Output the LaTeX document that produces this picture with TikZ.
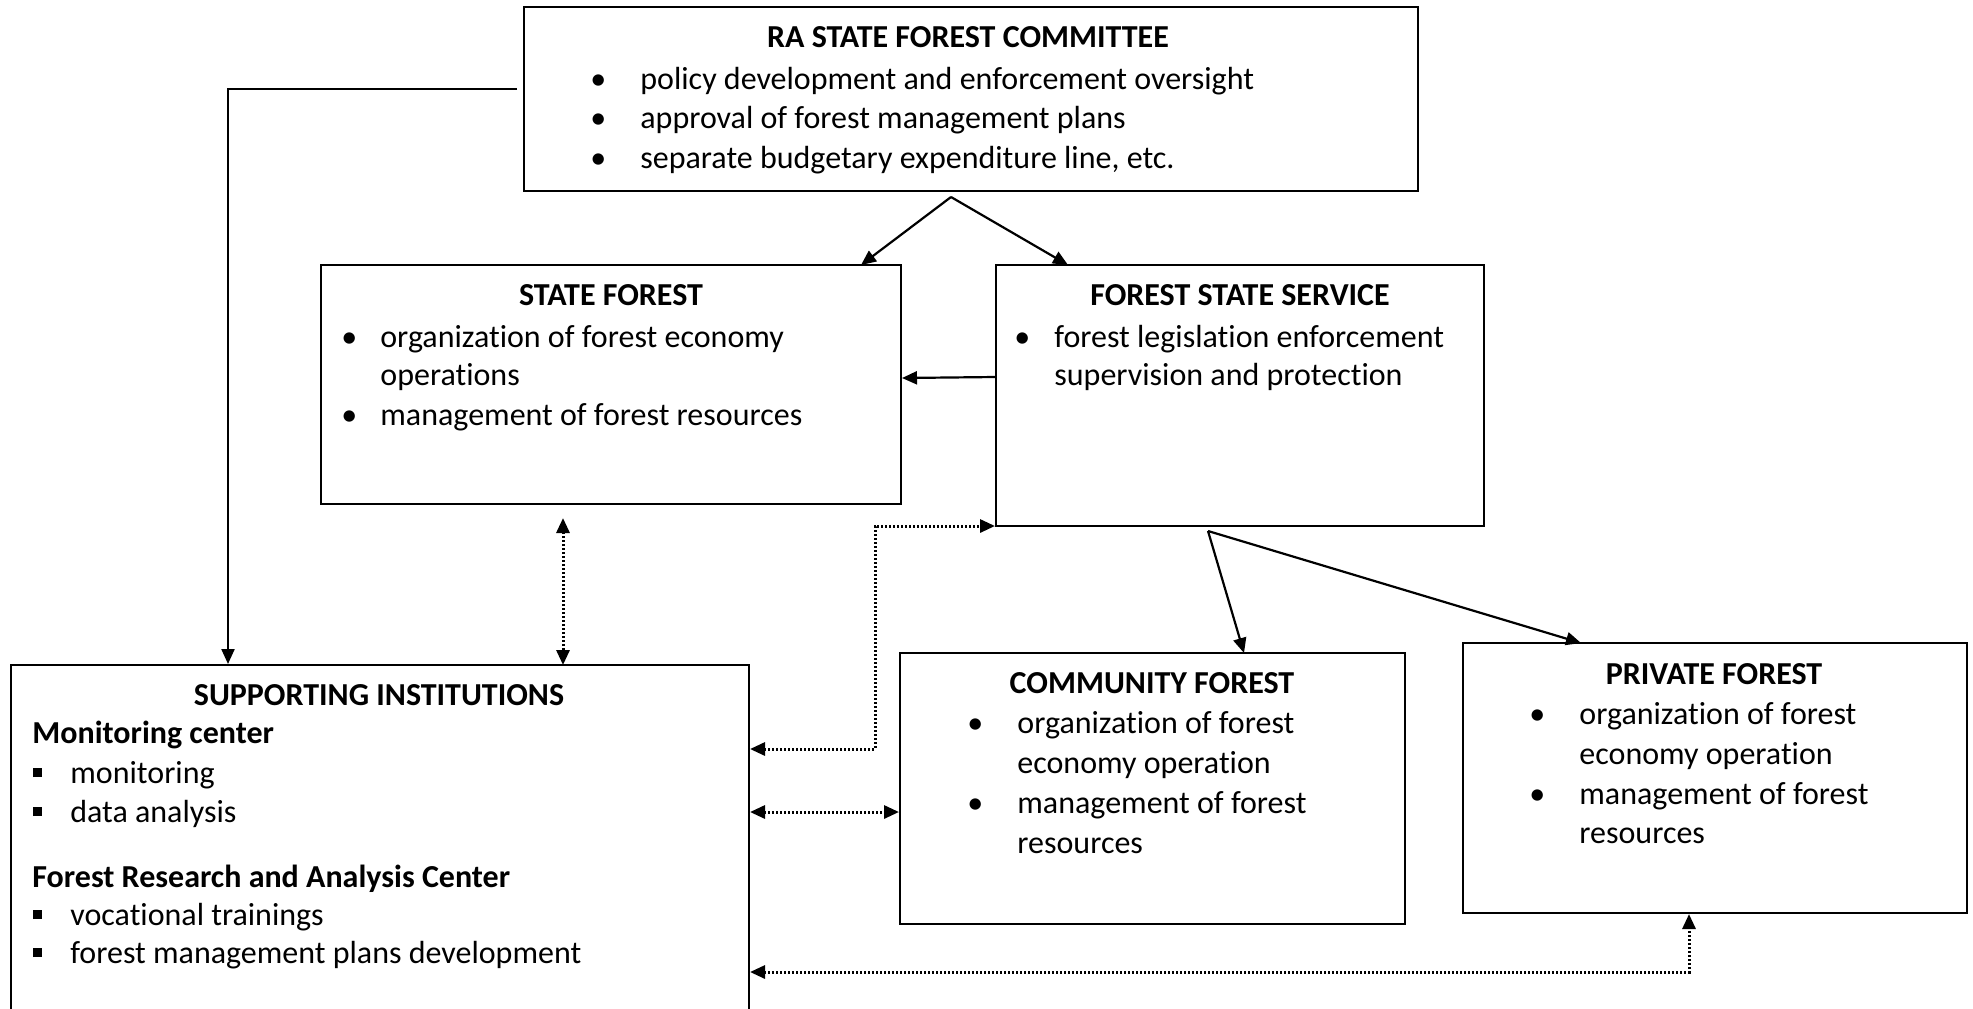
\documentclass[tikz,border=0pt]{standalone}
\usepackage{fontspec}
\setmainfont[Ligatures=NoCommon]{Carlito}
\usetikzlibrary{arrows.meta,fit}
\newcommand\myfs{\fontsize{16}{19.75}\selectfont}
\newcommand\bul[2]{\makebox[#1][l]{\textbullet}#2}
\newcommand\sqb[2]{\makebox[#1][l]{\rule[3pt]{4.5pt}{4.5pt}}#2}
\begin{document}
\begin{tikzpicture}[x=0.5pt,y=-0.5pt,
  box/.style={draw, line width=1pt, inner sep=0pt},
  txt/.style={anchor=base west, inner sep=0pt, font=\myfs},
  ttl/.style={anchor=base, inner sep=0pt, font=\myfs\bfseries},
  conn/.style={line width=1.1pt, -{Triangle[length=7.5pt,width=6.5pt]}},
  dotl/.style={line width=1.5pt, dash pattern=on 1pt off 1pt,
    {Triangle[length=7.5pt,width=6.5pt]}-{Triangle[length=7.5pt,width=6.5pt]}}]
\clip (0,0) rectangle (1973,1008);
\useasboundingbox (0,0) rectangle (1973,1008);
\fill[white] (0,0) rectangle (1973,1008);

% boxes
\node[box, fit={(524,7) (1418,191)}] (comm) {};
\node[box, fit={(321,265) (901,504)}] (sf) {};
\node[box, fit={(996,265) (1484,526)}] (fss) {};
\node[box, fit={(11,665) (749,1030)}] (sup) {};
\node[box, fit={(900,653) (1405,924)}] (cf) {};
\node[box, fit={(1463,643) (1967,913)}] (pf) {};

% committee text
\node[ttl] (t1) at (968,47) {RA STATE FOREST COMMITTEE};
\node[txt] (t2) at (590,89) {\bul{25pt}{policy development and enforcement oversight}};
\node[txt] (t3) at (590,128) {\bul{25pt}{approval of forest management plans}};
\node[txt] (t4) at (590,168) {\bul{25pt}{separate budgetary expenditure line, etc.}};

% state forest text
\node[ttl] (t5) at (611,305) {STATE FOREST};
\node[txt] (t6) at (341,347) {\bul{19.5pt}{organization of forest economy}};
\node[txt] (t7) at (380,385) {operations};
\node[txt] (t8) at (341,425) {\bul{19.5pt}{management of forest resources}};

% forest state service text
\node[ttl] (t9) at (1240,305) {FOREST STATE SERVICE};
\node[txt] (t10) at (1014,347) {\bul{20pt}{forest legislation enforcement}};
\node[txt] (t11) at (1054,385) {supervision and protection};

% supporting institutions text
\node[ttl] (t12) at (379,705) {SUPPORTING INSTITUTIONS};
\node[txt, font=\myfs\bfseries] (t13) at (32,743) {Monitoring center};
\node[txt] (t14) at (33,783) {\sqb{18.5pt}{monitoring}};
\node[txt] (t15) at (33,822) {\sqb{18.5pt}{data analysis}};
\node[txt, font=\myfs\bfseries] (t16) at (32,887) {Forest Research and Analysis Center};
\node[txt] (t17) at (33,925) {\sqb{18.5pt}{vocational trainings}};
\node[txt] (t18) at (33,963) {\sqb{18.5pt}{forest management plans development}};

% community forest text
\node[ttl] (t19) at (1152,693) {COMMUNITY FOREST};
\node[txt] (t20) at (967,733) {\bul{25pt}{organization of forest}};
\node[txt] (t21) at (1017,773) {economy operation};
\node[txt] (t22) at (967,813) {\bul{25pt}{management of forest}};
\node[txt] (t23) at (1017,853) {resources};

% private forest text
\node[ttl] (t24) at (1714,684) {PRIVATE FOREST};
\node[txt] (t25) at (1529,724) {\bul{25pt}{organization of forest}};
\node[txt] (t26) at (1579,764) {economy operation};
\node[txt] (t27) at (1529,804) {\bul{25pt}{management of forest}};
\node[txt] (t28) at (1579,843) {resources};

% connector waypoints
\coordinate (cstart) at (517,89);
\coordinate (cbend) at (228,89);
\coordinate (apex) at (951,197);
\coordinate (fapex) at (1208,531);
\coordinate (d1) at (875,749);
\coordinate (d2) at (875,526);
\coordinate (d3) at (1689,972);

% solid connectors
\draw[conn] (cstart) -- (cbend) -- (cbend |- sup.north);
\draw[conn] (apex) -- (861,265);
\draw[conn] (apex) -- (1068,265);
\draw[conn] (fss.west |- 0,377) -- (sf.east |- 0,378);
\draw[conn] (fapex) -- (1244,653);
\draw[conn] (fapex) -- (1581,643);

% dotted connectors
\draw[dotl] (563,518) -- (563,665);
\draw[dotl] (sup.east |- d1) -- (d1) -- (d2) -- (fss.west |- d2);
\draw[dotl] (sup.east |- 0,812) -- (cf.west |- 0,812);
\draw[dotl] (sup.east |- d3) -- (d3) -- (d3 |- pf.south);
\end{tikzpicture}
\end{document}
